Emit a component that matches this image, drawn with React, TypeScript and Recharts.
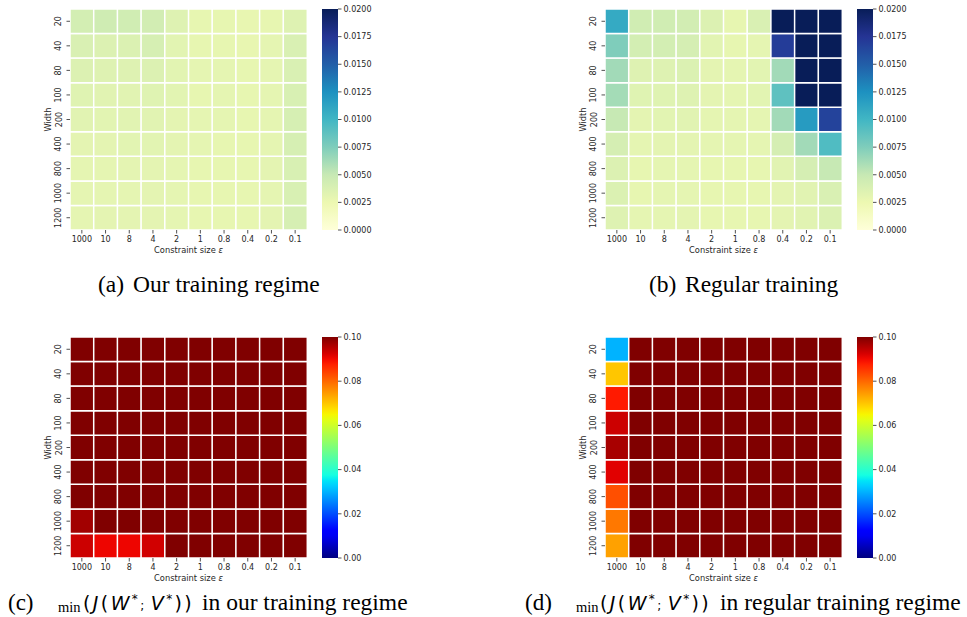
import React from "react";
import { BarChart, Bar, XAxis, YAxis, Cell, Label } from "recharts";

const widths = ["20", "40", "80", "100", "200", "400", "800", "1000", "1200"];
const epsilons = ["1000", "10", "8", "4", "2", "1", "0.8", "0.4", "0.2", "0.1"];

const mseTicks = [0, 0.0025, 0.005, 0.0075, 0.01, 0.0125, 0.015, 0.0175, 0.02];
const jTicks = [0, 0.02, 0.04, 0.06, 0.08, 0.1];

// rows = width (20 .. 1200), columns = constraint size (1000 .. 0.1)
const ourMse = [
  [0.0042, 0.0045, 0.0044, 0.0043, 0.0035, 0.0029, 0.0029, 0.0028, 0.0029, 0.0035],
  [0.0038, 0.0036, 0.0037, 0.004, 0.0032, 0.0029, 0.0029, 0.0028, 0.003, 0.0038],
  [0.0036, 0.0035, 0.0035, 0.0036, 0.0032, 0.003, 0.003, 0.0029, 0.003, 0.0038],
  [0.0034, 0.0033, 0.0033, 0.0034, 0.0032, 0.0029, 0.003, 0.0029, 0.003, 0.0039],
  [0.0033, 0.0032, 0.0033, 0.0033, 0.0031, 0.003, 0.003, 0.0029, 0.003, 0.004],
  [0.0031, 0.0031, 0.0032, 0.0032, 0.0031, 0.003, 0.0029, 0.0029, 0.003, 0.004],
  [0.003, 0.003, 0.0031, 0.0031, 0.003, 0.0029, 0.0029, 0.0029, 0.0031, 0.0039],
  [0.003, 0.003, 0.003, 0.0031, 0.003, 0.0029, 0.0029, 0.0029, 0.003, 0.0039],
  [0.003, 0.0031, 0.0031, 0.0031, 0.003, 0.0029, 0.0029, 0.0029, 0.0031, 0.004],
];

const regularMse = [
  [0.0108, 0.0044, 0.0044, 0.0043, 0.0036, 0.0029, 0.0038, 0.024, 0.024, 0.024],
  [0.0075, 0.0042, 0.0042, 0.0041, 0.0032, 0.0029, 0.003, 0.017, 0.024, 0.024],
  [0.0063, 0.0035, 0.0035, 0.0037, 0.0031, 0.003, 0.0032, 0.0063, 0.024, 0.024],
  [0.0062, 0.0034, 0.0034, 0.0035, 0.0031, 0.003, 0.0032, 0.0088, 0.024, 0.024],
  [0.005, 0.0031, 0.0032, 0.0033, 0.003, 0.003, 0.003, 0.0063, 0.0118, 0.0166],
  [0.0041, 0.003, 0.0031, 0.0031, 0.003, 0.003, 0.003, 0.0041, 0.0063, 0.0094],
  [0.0036, 0.0029, 0.003, 0.003, 0.0029, 0.0029, 0.0029, 0.0033, 0.0041, 0.005],
  [0.0037, 0.0029, 0.003, 0.003, 0.0029, 0.0029, 0.0029, 0.0031, 0.0033, 0.0038],
  [0.0035, 0.003, 0.003, 0.0031, 0.0029, 0.0029, 0.0029, 0.0031, 0.0033, 0.0037],
];

const ourJ = [
  [0.1, 0.1, 0.1, 0.1, 0.1, 0.1, 0.1, 0.1, 0.1, 0.1],
  [0.1, 0.1, 0.1, 0.1, 0.1, 0.1, 0.1, 0.1, 0.1, 0.1],
  [0.1, 0.1, 0.1, 0.1, 0.1, 0.1, 0.1, 0.1, 0.1, 0.1],
  [0.1, 0.1, 0.1, 0.1, 0.1, 0.1, 0.1, 0.1, 0.1, 0.1],
  [0.1, 0.1, 0.1, 0.1, 0.1, 0.1, 0.1, 0.1, 0.1, 0.1],
  [0.1, 0.1, 0.1, 0.1, 0.1, 0.1, 0.1, 0.1, 0.1, 0.1],
  [0.1, 0.1, 0.1, 0.1, 0.1, 0.1, 0.1, 0.1, 0.1, 0.1],
  [0.097, 0.1, 0.1, 0.1, 0.1, 0.1, 0.1, 0.1, 0.1, 0.1],
  [0.0934, 0.0905, 0.0905, 0.093, 0.1, 0.1, 0.1, 0.1, 0.1, 0.1],
];

const regularJ = [
  [0.03, 0.1, 0.1, 0.1, 0.1, 0.1, 0.1, 0.1, 0.1, 0.1],
  [0.07, 0.1, 0.1, 0.1, 0.1, 0.1, 0.1, 0.1, 0.1, 0.1],
  [0.0883, 0.1, 0.1, 0.1, 0.1, 0.1, 0.1, 0.1, 0.1, 0.1],
  [0.0934, 0.1, 0.1, 0.1, 0.1, 0.1, 0.1, 0.1, 0.1, 0.1],
  [0.0965, 0.1, 0.1, 0.1, 0.1, 0.1, 0.1, 0.1, 0.1, 0.1],
  [0.0916, 0.1, 0.1, 0.1, 0.1, 0.1, 0.1, 0.1, 0.1, 0.1],
  [0.0826, 0.1, 0.1, 0.1, 0.1, 0.1, 0.1, 0.1, 0.1, 0.1],
  [0.0783, 0.1, 0.1, 0.1, 0.1, 0.1, 0.1, 0.1, 0.1, 0.1],
  [0.074, 0.1, 0.1, 0.1, 0.1, 0.1, 0.1, 0.1, 0.1, 0.1],
];

const ink = "#262626";
const sans = "'DejaVu Sans', sans-serif";
const serif = "'Liberation Serif', 'Times New Roman', serif";

// colormaps
const ylgnbuHex = ["#ffffd9", "#edf8b1", "#c7e9b4", "#7fcdbb", "#41b6c4", "#1d91c0", "#225ea8", "#253494", "#081d58"];
const clamp = (t: number) => Math.max(0, Math.min(1, t));
const toRgb = (h: string) => [1, 3, 5].map((i) => parseInt(h.slice(i, i + 2), 16));
const rgbStr = (r: number, g: number, b: number) =>
  `rgb(${Math.round(r)},${Math.round(g)},${Math.round(b)})`;

function ylgnbu(t: number) {
  const p = clamp(t) * (ylgnbuHex.length - 1);
  const i = Math.min(Math.floor(p), ylgnbuHex.length - 2);
  const f = p - i;
  const a = toRgb(ylgnbuHex[i]);
  const b = toRgb(ylgnbuHex[i + 1]);
  return rgbStr(a[0] + (b[0] - a[0]) * f, a[1] + (b[1] - a[1]) * f, a[2] + (b[2] - a[2]) * f);
}

const jetR = [[0, 0], [0.35, 0], [0.66, 1], [0.89, 1], [1, 0.5]];
const jetG = [[0, 0], [0.125, 0], [0.375, 1], [0.64, 1], [0.91, 0], [1, 0]];
const jetB = [[0, 0.5], [0.11, 1], [0.34, 1], [0.65, 0], [1, 0]];

function piece(pts: number[][], t: number) {
  for (let i = 1; i < pts.length; i++) {
    if (t <= pts[i][0]) {
      const [x0, y0] = pts[i - 1];
      const [x1, y1] = pts[i];
      return y0 + ((t - x0) / (x1 - x0)) * (y1 - y0);
    }
  }
  return pts[pts.length - 1][1];
}

function jet(t: number) {
  const c = clamp(t);
  return rgbStr(piece(jetR, c) * 255, piece(jetG, c) * 255, piece(jetB, c) * 255);
}

function Gradient({ id, cmap }: { id: string; cmap: (t: number) => string }) {
  const n = 40;
  return (
    <linearGradient id={id} x1="0" y1="1" x2="0" y2="0">
      {Array.from({ length: n + 1 }, (_, i) => (
        <stop key={i} offset={i / n} stopColor={cmap(i / n)} />
      ))}
    </linearGradient>
  );
}

function WidthTick(props: any) {
  const { x, y, payload } = props;
  const label = widths[widths.length - 1 - Math.floor(payload.value)];
  const bx = x - 3;
  return (
    <text
      x={bx}
      y={y}
      transform={`rotate(-90, ${bx}, ${y})`}
      textAnchor="middle"
      fontSize={8}
      fontFamily={sans}
      fill={ink}
    >
      {label}
    </text>
  );
}

function Heatmap({ values, vmax, cmap, left, top }: any) {
  const table = epsilons.map((eps, ci) => {
    const row: any = { eps };
    widths.forEach((_, ri) => {
      row[`c${ri}`] = 1;
      row[`v${ri}`] = values[ri][ci];
    });
    return row;
  });
  const bottomFirst = widths.map((_, i) => widths.length - 1 - i);
  const rowTicks = widths.map((_, i) => i + 0.5);

  return (
    <div style={{ position: "absolute", left, top }}>
      <BarChart
        width={312}
        height={260}
        data={table}
        margin={{ top: 9, right: 5, bottom: 0, left: 0 }}
        barCategoryGap={0}
        barGap={0}
      >
        <XAxis
          dataKey="eps"
          interval={0}
          axisLine={false}
          tickSize={3.5}
          tickMargin={3}
          height={30}
          tickLine={{ stroke: ink, strokeWidth: 0.8 }}
          tick={{ fontSize: 8, fill: ink, fontFamily: sans }}
        >
          <Label
            content={({ viewBox }: any) => (
              <text
                x={viewBox.x + viewBox.width / 2}
                y={viewBox.y + 23}
                textAnchor="middle"
                fontSize={8.3}
                fontFamily={sans}
                fill={ink}
              >
                Constraint size <tspan fontStyle="italic">ε</tspan>
              </text>
            )}
          />
        </XAxis>
        <YAxis
          type="number"
          domain={[0, widths.length]}
          ticks={rowTicks}
          interval={0}
          width={70}
          axisLine={false}
          tickSize={3.5}
          tickLine={{ stroke: ink, strokeWidth: 0.8 }}
          tick={(p: any) => <WidthTick {...p} />}
        >
          <Label
            content={({ viewBox }: any) => {
              const lx = viewBox.x + 51;
              const ly = viewBox.y + viewBox.height / 2;
              return (
                <text
                  x={lx}
                  y={ly}
                  transform={`rotate(-90, ${lx}, ${ly})`}
                  textAnchor="middle"
                  fontSize={8.3}
                  fontFamily={sans}
                  fill={ink}
                >
                  Width
                </text>
              );
            }}
          />
        </YAxis>
        {bottomFirst.map((ri) => (
          <Bar key={ri} dataKey={`c${ri}`} stackId="grid" isAnimationActive={false}>
            {table.map((_, ci) => (
              <Cell key={ci} fill={cmap(values[ri][ci] / vmax)} stroke="#ffffff" strokeWidth={1.5} />
            ))}
          </Bar>
        ))}
      </BarChart>
    </div>
  );
}

function Colorbar({ id, vmax, ticks, digits, left, top }: any) {
  const table = [{ name: "cb", top: vmax }];
  return (
    <div style={{ position: "absolute", left, top }}>
      <BarChart
        width={66}
        height={240}
        data={table}
        margin={{ top: 9, right: 0, bottom: 10, left: 0 }}
        barCategoryGap={0}
      >
        <XAxis dataKey="name" hide />
        <YAxis
          orientation="right"
          type="number"
          domain={[0, vmax]}
          ticks={ticks}
          interval={0}
          width={50}
          axisLine={false}
          tickSize={3.5}
          tickLine={{ stroke: ink, strokeWidth: 0.8 }}
          tick={{ fontSize: 8, fill: ink, fontFamily: sans }}
          tickFormatter={(v: number) => v.toFixed(digits)}
        />
        <Bar dataKey="top" fill={`url(#${id})`} isAnimationActive={false} />
      </BarChart>
    </div>
  );
}

function MathCaption({ tag, rest, x }: { tag: string; rest: string; x: number[] }) {
  const base = 610;
  return (
    <g fill="#000">
      <text x={x[0]} y={base} fontFamily={serif} fontSize={23}>{tag}</text>
      <text x={x[1]} y={base + 2} fontFamily={serif} fontSize={14.5}>min</text>
      <text x={x[2]} y={base} fontFamily={sans} fontSize={19} letterSpacing={2.4}>
        <tspan>(</tspan>
        <tspan fontStyle="italic">J</tspan>
        <tspan>(</tspan>
        <tspan fontStyle="italic">W</tspan>
        <tspan dy={-7} fontSize={12}>*</tspan>
        <tspan dy={7} fontSize={12}>;</tspan>
        <tspan dx={4} fontStyle="italic">V</tspan>
        <tspan dy={-7} fontSize={12}>*</tspan>
        <tspan dy={7}>))</tspan>
      </text>
      <text x={x[3]} y={base} fontFamily={serif} fontSize={23.5}>{rest}</text>
    </g>
  );
}

export default function App() {
  return (
    <div style={{ position: "absolute", left: 0, top: 0, width: 967, height: 617, background: "#fff" }}>
      <svg width={0} height={0} style={{ position: "absolute" }}>
        <defs>
          <Gradient id="gradMse" cmap={ylgnbu} />
          <Gradient id="gradJet" cmap={jet} />
        </defs>
      </svg>

      <Heatmap values={ourMse} vmax={0.02} cmap={ylgnbu} left={0} top={0} />
      <Colorbar id="gradMse" vmax={0.02} ticks={mseTicks} digits={4} left={322} top={0} />
      <Heatmap values={regularMse} vmax={0.02} cmap={ylgnbu} left={535} top={0} />
      <Colorbar id="gradMse" vmax={0.02} ticks={mseTicks} digits={4} left={857} top={0} />

      <Heatmap values={ourJ} vmax={0.1} cmap={jet} left={0} top={328} />
      <Colorbar id="gradJet" vmax={0.1} ticks={jTicks} digits={2} left={322} top={328} />
      <Heatmap values={regularJ} vmax={0.1} cmap={jet} left={535} top={328} />
      <Colorbar id="gradJet" vmax={0.1} ticks={jTicks} digits={2} left={857} top={328} />

      <svg width={967} height={617} style={{ position: "absolute", left: 0, top: 0, pointerEvents: "none" }}>
        <g fill="#000" fontFamily={serif} fontSize={23.5}>
          <text x={98} y={292}>(a)</text>
          <text x={133} y={292}>Our training regime</text>
          <text x={649} y={292}>(b)</text>
          <text x={685} y={292}>Regular training</text>
        </g>
        <MathCaption tag="(c)" rest="in our training regime" x={[8, 58, 83, 202]} />
        <MathCaption tag="(d)" rest="in regular training regime" x={[525, 576, 600, 720]} />
      </svg>
    </div>
  );
}
